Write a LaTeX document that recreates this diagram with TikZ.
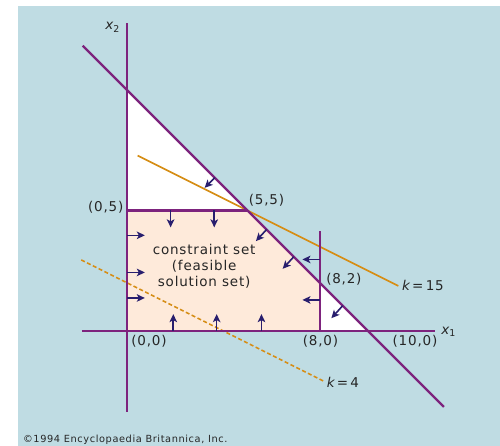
\documentclass[tikz,border=0pt]{standalone}
\usepackage{fontspec}
\setmainfont{DejaVu Sans}
\newfontfamily\plotfont[LetterSpace=6]{DejaVu Sans}
\usetikzlibrary{arrows.meta,positioning}
\definecolor{bgblue}{RGB}{191,220,227}
\definecolor{bndpurple}{RGB}{125,35,125}
\definecolor{lvlorange}{RGB}{214,142,22}
\definecolor{pushnavy}{RGB}{40,30,110}
\definecolor{feaspeach}{RGB}{254,234,218}
\tikzset{
  bound/.style={draw=bndpurple, line width=2.2pt},
  level/.style={draw=lvlorange, line width=1.6pt},
  push/.style={-{Stealth[length=8pt,width=7.5pt,inset=2pt]}, line width=1.6pt, draw=pushnavy},
  lbl/.style={font=\plotfont\fontsize{13.5}{16}\selectfont, text=black!85, inner sep=1pt}
}

\begin{document}
\begin{tikzpicture}[x=24.1pt, y=24.1pt]
  \useasboundingbox (-127pt,-115pt) rectangle (373pt,331pt);
  \fill[bgblue] (-109pt,-115pt) rectangle (373pt,325pt);

  % corners of the constraint set
  \coordinate (O) at (0,0);
  \coordinate (P05) at (0,5);
  \coordinate (P55) at (5,5);
  \coordinate (P82) at (8,2);
  \coordinate (P80) at (8,0);
  \coordinate (P010) at (0,10);
  \coordinate (P100) at (10,0);

  \fill[feaspeach] (O) -- (P05) -- (P55) -- (P82) -- (P80) -- cycle;
  \fill[white] (P05) -- (P010) -- (P55) -- cycle;
  \fill[white] (P80) -- (P82) -- (P100) -- cycle;

  % level lines of the objective
  \coordinate (k15a) at (0.44,7.28);
  \coordinate (k15b) at (11.26,1.87);
  \coordinate (k4a) at (-1.9,2.95);
  \coordinate (k4b) at (8.2,-2.1);
  \draw[level] (k15a) -- (k15b);
  \draw[level, dash pattern=on 4pt off 2.5pt] (k4a) -- (k4b);

  % axes and constraint lines
  \coordinate (x1l) at (-1.87,0);
  \coordinate (x1r) at (12.8,0);
  \coordinate (x2b) at (0,-3.36);
  \coordinate (x2t) at (0,12.8);
  \coordinate (dgl) at (-1.84,11.84);
  \coordinate (dgr) at (13.15,-3.15);
  \coordinate (v8t) at (8,4.15);
  \draw[bound] (x1l) -- (x1r);
  \draw[bound] (x2b) -- (x2t);
  \draw[bound] (dgl) -- (dgr);
  \draw[bound] (P05) -- (P55);
  \draw[bound] (P80) -- (v8t);

  % arrows pointing into the feasible side
  \draw[push] (1.81,5) -- ++(0,-0.7);
  \draw[push] (3.62,5) -- ++(0,-0.7);
  \draw[push] (0,3.97) -- ++(0.74,0);
  \draw[push] (0,2.43) -- ++(0.74,0);
  \draw[push] (0,1.37) -- ++(0.74,0);
  \draw[push] (1.92,0) -- ++(0,0.7);
  \draw[push] (3.72,0) -- ++(0,0.7);
  \draw[push] (5.58,0) -- ++(0,0.7);
  \draw[push] (8,2.97) -- ++(-0.72,0);
  \draw[push] (8,1.29) -- ++(-0.72,0);
  \draw[push] (3.64,6.36) -- ++(-0.42,-0.42);
  \draw[push] (5.79,4.21) -- ++(-0.44,-0.48);
  \draw[push] (6.92,3.08) -- ++(-0.46,-0.5);
  \draw[push] (8.95,1.05) -- ++(-0.47,-0.52);

  % labels
  \node[lbl] (lx2) at (-0.6,12.6) {\itshape x\textsubscript{\upshape 2}};
  \node[lbl] (lx1) at (13.35,-0.05) {\itshape x\textsubscript{\upshape 1}};
  \node[lbl] (l05) at (-0.88,5.15) {(0,5)};
  \node[lbl] (l55) at (5.79,5.44) {(5,5)};
  \node[lbl] (l82) at (9.0,2.16) {(8,2)};
  \node[lbl] (l00) at (0.91,-0.44) {(0,0)};
  \node[lbl] (l80) at (8.03,-0.44) {(8,0)};
  \node[lbl] (l100) at (11.95,-0.44) {(10,0)};
  \node[lbl] (lk15) at (12.28,1.87) {{\itshape k}\,=\,15};
  \node[lbl] (lk4) at (8.96,-2.13) {{\itshape k}\,=\,4};
  \node[lbl, align=center, font=\plotfont\fontsize{13.5}{16}\selectfont] (lset) at (3.2,2.68) {constraint set\\(feasible\\solution set)};
  \node[font=\plotfont\fontsize{9.8}{11}\selectfont, text=black!85, anchor=west, inner sep=0pt] (copy) at (-4.32,-4.52) {©1994 Encyclopaedia Britannica, Inc.};
\end{tikzpicture}
\end{document}
